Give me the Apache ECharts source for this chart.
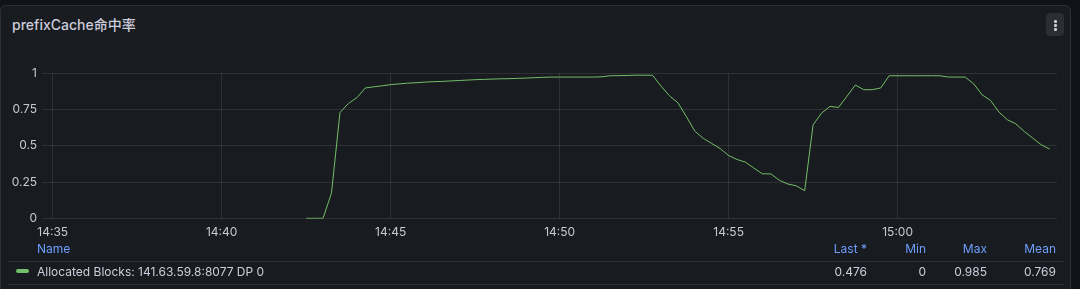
<!DOCTYPE html>
<html>
<head>
<meta charset="utf-8">
<script src="https://cdn.jsdelivr.net/npm/echarts@6/dist/echarts.min.js"></script>
<style>
  html, body { margin:0; padding:0; width:1080px; height:289px; overflow:hidden; background:#111217; font-family: Inter, "Noto Sans CJK SC", sans-serif; }
  #panel { position:absolute; left:0; top:5px; width:1071px; height:300px; background:#181b1f; border:1px solid rgba(204,204,220,0.12); border-radius:6px; box-sizing:border-box; }
  #title { position:absolute; left:12px; top:16px; font-size:14px; font-weight:500; color:#ccccdc; line-height:18px; white-space:nowrap; }
  #menu { position:absolute; left:1046px; top:13px; width:18px; height:23px; background:#2c2e33; border-radius:4px; }
  #menu i { position:absolute; left:8px; width:2.5px; height:2.5px; background:#d0d0dc; border-radius:50%; }
  #chart { position:absolute; left:0; top:0; width:1080px; height:289px; }
  .t { position:absolute; font-size:12px; line-height:14px; white-space:nowrap; }
  .h { color:#6e9fff; top:242px; }
  .r { color:#ccccdc; top:265px; }
  .ra { transform:translateX(-100%); }
  .sep { position:absolute; left:8px; width:1056px; height:1px; background:rgba(204,204,220,0.12); }
  #sw { position:absolute; left:16px; top:269px; width:13px; height:4px; border-radius:2px; background:#73bf69; }
</style>
</head>
<body>
<div id="panel"></div>
<div id="title">prefixCache命中率</div>
<div id="menu"><i style="top:7px"></i><i style="top:11px"></i><i style="top:15px"></i></div>
<div id="chart"></div>
<div class="t h" style="left:37px">Name</div>
<div class="t h ra" style="left:867px">Last *</div>
<div class="t h ra" style="left:926px">Min</div>
<div class="t h ra" style="left:987px">Max</div>
<div class="t h ra" style="left:1056px">Mean</div>
<div class="sep" style="top:261px"></div>
<div id="sw"></div>
<div class="t r" style="left:37px">Allocated Blocks: 141.63.59.8:8077 DP 0</div>
<div class="t r ra" style="left:867px">0.476</div>
<div class="t r ra" style="left:926px">0</div>
<div class="t r ra" style="left:987px">0.985</div>
<div class="t r ra" style="left:1056px">0.769</div>
<div class="sep" style="top:284px"></div>
<script>
const seriesName = "Allocated Blocks: 141.63.59.8:8077 DP 0";
const times = [
"14:42:30","14:42:45","14:43:00","14:43:15","14:43:30","14:43:45","14:44:00","14:44:15","14:44:30","14:44:45",
"14:45:00","14:45:15","14:45:30","14:45:45","14:46:00","14:46:15","14:46:30","14:46:45","14:47:00","14:47:15",
"14:47:30","14:47:45","14:48:00","14:48:15","14:48:30","14:48:45","14:49:00","14:49:15","14:49:30","14:49:45",
"14:50:00","14:50:15","14:50:30","14:50:45","14:51:00","14:51:15","14:51:30","14:51:45","14:52:00","14:52:15",
"14:52:30","14:52:45","14:53:00","14:53:15","14:53:30","14:53:45","14:54:00","14:54:15","14:54:30","14:54:45",
"14:55:00","14:55:15","14:55:30","14:55:45","14:56:00","14:56:15","14:56:30","14:56:45","14:57:00","14:57:15",
"14:57:30","14:57:45","14:58:00","14:58:15","14:58:30","14:58:45","14:59:00","14:59:15","14:59:30","14:59:45",
"15:00:00","15:00:15","15:00:30","15:00:45","15:01:00","15:01:15","15:01:30","15:01:45","15:02:00","15:02:15",
"15:02:30","15:02:45","15:03:00","15:03:15","15:03:30","15:03:45","15:04:00","15:04:15","15:04:30"
];
const values = [
0,0,0,0.175,0.728,0.79,0.83,0.897,0.905,0.912,
0.92,0.925,0.93,0.933,0.937,0.94,0.942,0.945,0.948,0.951,
0.954,0.956,0.958,0.96,0.961,0.963,0.965,0.968,0.97,0.972,
0.972,0.972,0.972,0.972,0.972,0.974,0.981,0.982,0.983,0.985,
0.985,0.984,0.91,0.843,0.795,0.70,0.60,0.55,0.515,0.48,
0.432,0.405,0.386,0.345,0.306,0.306,0.262,0.236,0.224,0.19,
0.643,0.724,0.77,0.763,0.839,0.917,0.885,0.885,0.897,0.981,
0.981,0.981,0.981,0.981,0.981,0.981,0.972,0.972,0.972,0.926,
0.85,0.811,0.731,0.678,0.65,0.597,0.552,0.506,0.476
];
const xTickLabels = ["14:35", "14:40", "14:45", "14:50", "14:55", "15:00"];
const yTicks = [0, 0.25, 0.5, 0.75, 1];
const axisStart = "14:34:41";
const axisEnd = "15:04:43";

// seconds since midnight
function toSec(s) {
  const p = s.split(":").map(Number);
  return p[0] * 3600 + p[1] * 60 + (p[2] || 0);
}
const pad = n => String(n).padStart(2, "0");
const fmt = v => pad(Math.floor(v / 3600)) + ":" + pad(Math.floor((v % 3600) / 60));
const data = times.map((t, i) => [toSec(t), values[i]]);
const xTickVals = xTickLabels.map(toSec);

const chart = echarts.init(document.getElementById("chart"), null, {renderer: "canvas"});
chart.setOption({
  backgroundColor: "transparent",
  animation: false,
  textStyle: { fontFamily: "Inter, 'Noto Sans CJK SC', sans-serif" },
  grid: { left: 42, right: 23, top: 73, bottom: 70.7, containLabel: false },
  xAxis: {
    type: "value",
    min: toSec(axisStart),
    max: toSec(axisEnd),
    axisLine: { show: false },
    axisTick: { show: false, customValues: xTickVals },
    splitLine: { show: false },
    axisLabel: {
      customValues: xTickVals,
      color: "#c8c8d2", fontSize: 12, margin: 8, hideOverlap: false,
      formatter: v => fmt(v)
    }
  },
  yAxis: {
    type: "value",
    min: yTicks[0],
    max: yTicks[yTicks.length - 1],
    interval: 0.25,
    axisLine: { show: false },
    axisTick: { show: false },
    splitLine: { show: true, lineStyle: { color: "rgba(204,204,220,0.12)", width: 1 } },
    axisLabel: { color: "#c8c8d2", fontSize: 12, margin: 5 }
  },
  series: [{
    name: seriesName,
    type: "line",
    data: data,
    showSymbol: false,
    symbol: "none",
    lineStyle: { color: "#73bf69", width: 1 },
    itemStyle: { color: "#73bf69" },
    markLine: {
      silent: true,
      symbol: "none",
      label: { show: false },
      lineStyle: { color: "rgba(204,204,220,0.12)", width: 1, type: "solid" },
      emphasis: { disabled: true },
      data: xTickVals.map(v => ({ xAxis: v }))
    }
  }]
});
</script>
</body>
</html>
